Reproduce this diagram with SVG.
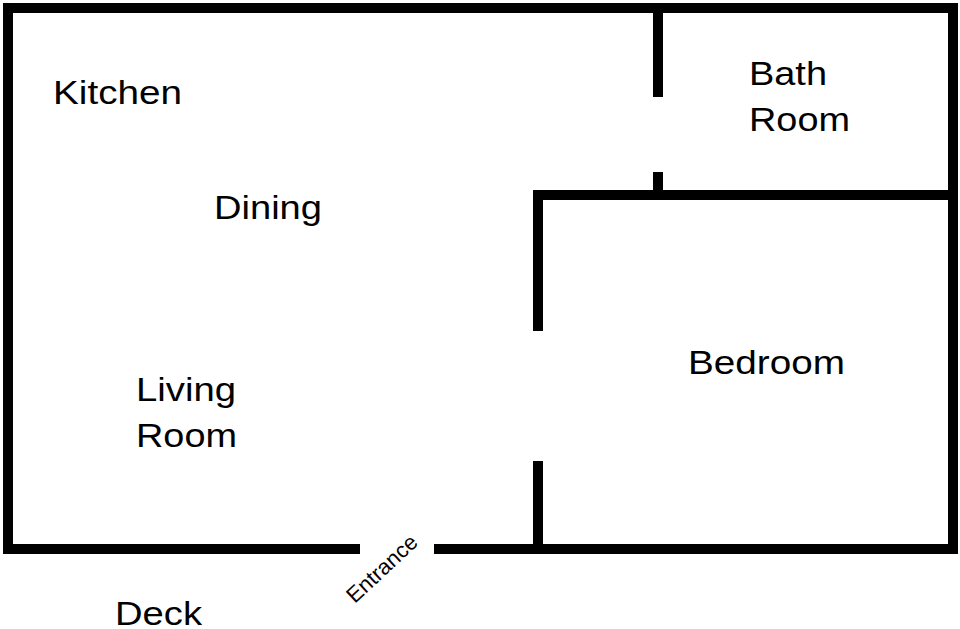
<svg xmlns="http://www.w3.org/2000/svg" width="960" height="629" viewBox="0 0 960 629">
<style>
.w{stroke:#000;stroke-width:10;fill:none;stroke-linecap:square}
.t{font-family:"Liberation Sans",Arial,sans-serif;font-size:34px;fill:#000}
</style>
<rect width="960" height="629" fill="#fff"/>
<g id="walls">
<path class="w" d="M355 549 H8 V8 H953 V549 H439"/>
<path class="w" d="M658 8 V92 M658 177 V195 M538 326 V195 H953 M538 466 V549"/>
</g>
<g id="kitchen"><text class="t" x="53" y="104" textLength="129" lengthAdjust="spacingAndGlyphs">Kitchen</text></g>
<g id="dining"><text class="t" x="214" y="219" textLength="108" lengthAdjust="spacingAndGlyphs">Dining</text></g>
<g id="living"><text class="t" x="136" y="401" textLength="100" lengthAdjust="spacingAndGlyphs">Living</text><text class="t" x="136" y="447" textLength="101" lengthAdjust="spacingAndGlyphs">Room</text></g>
<g id="bath"><text class="t" x="749" y="85" textLength="78" lengthAdjust="spacingAndGlyphs">Bath</text><text class="t" x="749" y="131" textLength="101" lengthAdjust="spacingAndGlyphs">Room</text></g>
<g id="bedroom"><text class="t" x="688" y="374" textLength="157" lengthAdjust="spacingAndGlyphs">Bedroom</text></g>
<g id="deck"><text class="t" x="115" y="625" textLength="87" lengthAdjust="spacingAndGlyphs">Deck</text></g>
<g id="entrance"><text class="t" style="font-size:22px" text-anchor="middle" transform="translate(387,574) rotate(-43)">Entrance</text></g>
</svg>
